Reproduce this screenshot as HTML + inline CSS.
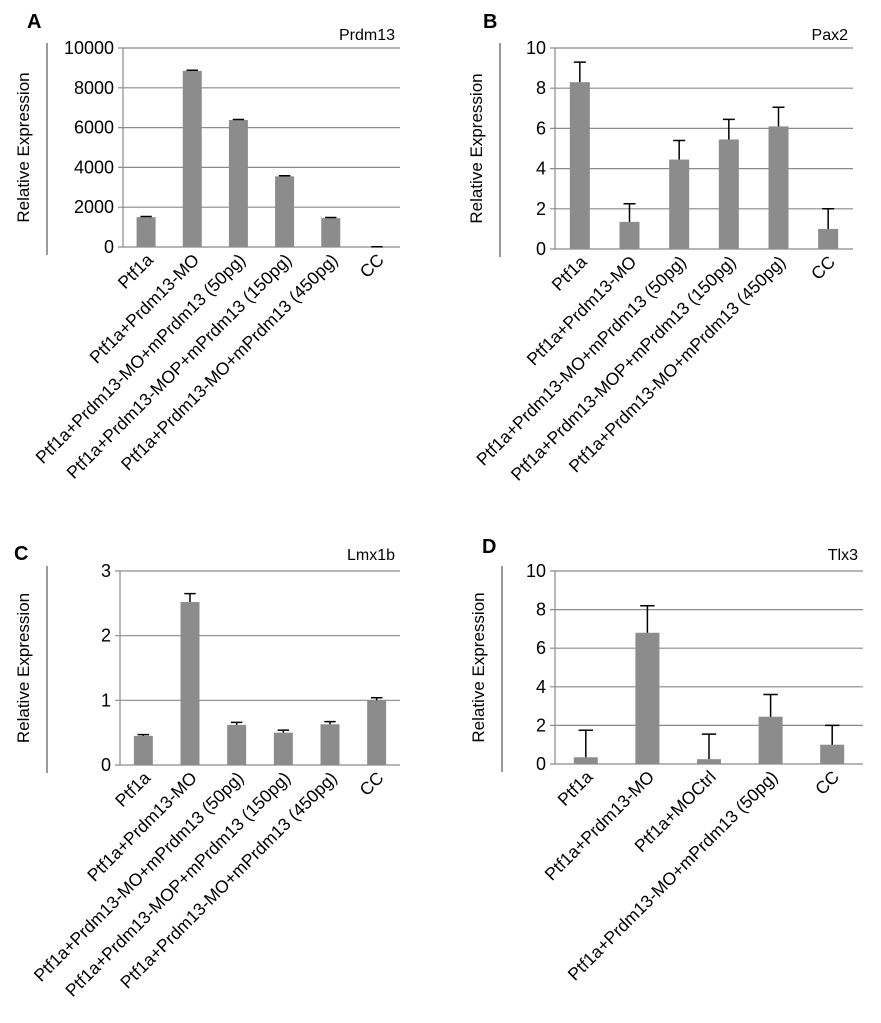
<!DOCTYPE html>
<html><head><meta charset="utf-8"><style>
html,body{margin:0;padding:0;background:#fff;}
svg{display:block;font-family:"Liberation Sans",sans-serif;}
</style></head><body>
<svg id="fig" width="881" height="1023" viewBox="0 0 881 1023"></svg>
<script>
const catsA=["Ptf1a","Ptf1a+Prdm13-MO","Ptf1a+Prdm13-MO+mPrdm13 (50pg)","Ptf1a+Prdm13-MOP+mPrdm13 (150pg)","Ptf1a+Prdm13-MO+mPrdm13 (450pg)","CC"];
const valsA=[1500,8850,6380,3550,1450,10];
const errsA=[30,30,30,30,30,5];
const ticksA=[0,2000,4000,6000,8000,10000];
const valsB=[8.3,1.35,4.45,5.45,6.1,1.0];
const errsB=[1.0,0.9,0.95,1.0,0.95,1.0];
const ticksB=[0,2,4,6,8,10];
const valsC=[0.45,2.52,0.62,0.5,0.63,1.0];
const errsC=[0.02,0.13,0.04,0.04,0.04,0.04];
const ticksC=[0,1,2,3];
const catsD=["Ptf1a","Ptf1a+Prdm13-MO","Ptf1a+MOCtrl","Ptf1a+Prdm13-MO+mPrdm13 (50pg)","CC"];
const valsD=[0.35,6.8,0.25,2.45,1.0];
const errsD=[1.4,1.4,1.3,1.15,1.0];
const ticksD=[0,2,4,6,8,10];

const NS="http://www.w3.org/2000/svg";
const svg=document.getElementById('fig');
function mk(tag,attrs,parent,text){const e=document.createElementNS(NS,tag);for(const k in attrs)e.setAttribute(k,attrs[k]);if(text!==undefined)e.textContent=text;(parent||svg).appendChild(e);return e;}

function panel(o){
  const g=mk('g',{});
  
  
  const ymax=o.ticks[o.ticks.length-1];
  const yS=v=>o.y0-(v/ymax)*(o.y0-o.y1);
  const step=(o.x1-o.x0)/o.cats.length;
  const xS=i=>o.x0+step*(i+0.5);
  const L=mk('text',{x:o.lx,y:o.ly,'font-size':20,'font-weight':'bold'},g,o.letter);
  
  const T=mk('text',{x:o.x1-5,y:o.ty,'font-size':16,'text-anchor':'end'},g,o.title);
  
  const bl=mk('line',{x1:o.bx,x2:o.bx,y1:o.y1-5,y2:o.y0+8,stroke:'#333','stroke-width':1},g);
  
  const yt=mk('text',{transform:`translate(${o.bx-18},${(o.y0+o.y1)/2}) rotate(-90)`,'font-size':17,'text-anchor':'middle'},g,'Relative Expression');
  
  o.ticks.forEach(t=>{
    const y=yS(t);
    const gl=mk('line',{x1:o.x0-5,x2:o.x1,y1:y,y2:y,stroke:'#8a8a8a','stroke-width':1.2},g);
    
    const tl=mk('text',{x:o.x0-9,y:y+6,'font-size':18,'text-anchor':'end'},g,String(t));
    
  });
  const ax=mk('line',{x1:o.x0,x2:o.x0,y1:o.y1,y2:o.y0,stroke:'#8a8a8a','stroke-width':1.2},g);
  
  o.vals.forEach((v,i)=>{
    const cx=xS(i),top=yS(v),et=yS(v+o.errs[i]);
    const b=mk('rect',{x:cx-o.bw/2,y:top,width:o.bw,height:Math.max(o.y0-top,0.5),fill:'#8c8c8c'},g);
    
    const cw=o.bw*0.3;
    const e=mk('path',{d:`M${cx},${top}V${et}M${cx-cw},${et}H${cx+cw}`,stroke:'#000','stroke-width':1.5,fill:'none'},g);
    
    const c=mk('text',{transform:`translate(${cx+8},${o.y0+14}) rotate(-45)`,'font-size':17.5,'text-anchor':'end'},g,o.cats[i]);
    
  });
}
panel({letter:'A',title:'Prdm13',cats:catsA,vals:valsA,errs:errsA,ticks:ticksA,x0:123,x1:400,y0:247,y1:48,bx:47,lx:27,ly:28,ty:40,bw:19});
panel({letter:'B',title:'Pax2',cats:catsA,vals:valsB,errs:errsB,ticks:ticksB,x0:555,x1:853,y0:249,y1:48,bx:500,lx:483,ly:28,ty:40,bw:20});
panel({letter:'C',title:'Lmx1b',cats:catsA,vals:valsC,errs:errsC,ticks:ticksC,x0:120,x1:400,y0:765,y1:571,bx:47,lx:14,ly:560,ty:560,bw:19});
panel({letter:'D',title:'Tlx3',cats:catsD,vals:valsD,errs:errsD,ticks:ticksD,x0:555,x1:863,y0:764,y1:571,bx:502,lx:482,ly:553,ty:560,bw:24});
</script>
</body></html>
